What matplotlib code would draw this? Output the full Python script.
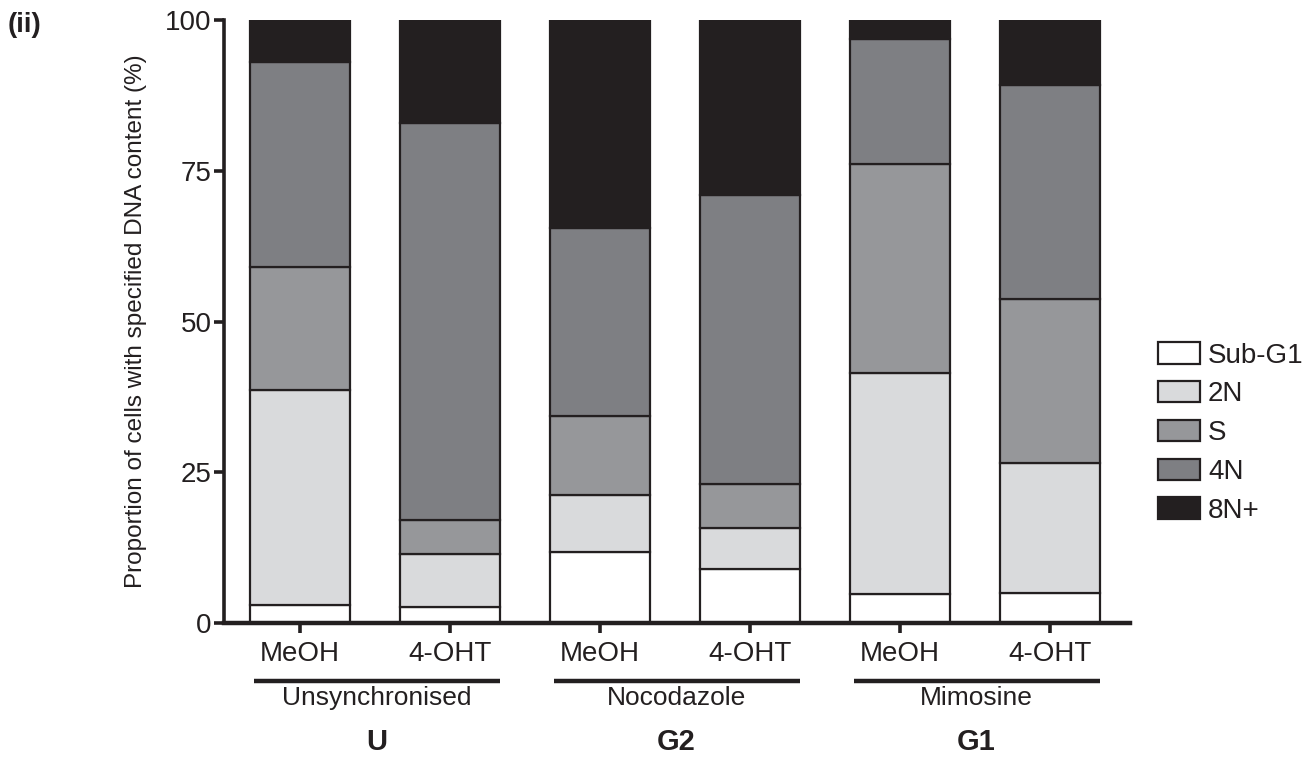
import matplotlib
matplotlib.use("Agg")
import matplotlib.pyplot as plt
import matplotlib.transforms as mtransforms
from matplotlib.patches import Patch
import numpy as np

plt.rcParams['font.family'] = ['Liberation Sans', 'DejaVu Sans']

# Data: percentage of cells in each DNA-content class
treatments = ["MeOH", "4-OHT", "MeOH", "4-OHT", "MeOH", "4-OHT"]
groups = ["Unsynchronised", "Nocodazole", "Mimosine"]
phases = ["U", "G2", "G1"]
categories = ["Sub-G1", "2N", "S", "4N", "8N+"]

sub_g1 = [3.0, 2.6, 11.8, 9.0, 4.8, 4.9]
two_n = [35.7, 8.8, 9.5, 6.8, 36.7, 21.7]
s_phase = [20.3, 5.7, 13.0, 7.2, 34.7, 27.2]
four_n = [34.1, 65.8, 31.2, 47.9, 20.6, 35.4]
eight_n = [6.9, 17.1, 34.5, 29.1, 3.2, 10.8]

colors = ["#ffffff", "#d9dadc", "#96979a", "#7e7f83", "#231f20"]
edge = "#231f20"

fig = plt.figure(figsize=(13.09, 7.58), dpi=100)
W, H = 1309, 758
ax = fig.add_axes([224 / W, 1 - 623 / H, (1130 - 224) / W, (623 - 20) / H])

x = np.arange(len(treatments))
series = [sub_g1, two_n, s_phase, four_n, eight_n]
bottom = np.zeros(len(x))
for vals, col in zip(series, colors):
    ax.bar(x, vals, width=0.667, bottom=bottom, color=col, edgecolor=edge,
           linewidth=1.6, zorder=2)
    bottom += np.array(vals)

ax.set_xlim(-0.507, 5.533)
ax.set_ylim(0, 100)
ax.set_yticks([0, 25, 50, 75, 100])
ax.set_xticks(x)
ax.set_xticklabels(treatments)
for side in ("top", "right"):
    ax.spines[side].set_visible(False)
ax.spines["left"].set_linewidth(2.6)
ax.spines["bottom"].set_linewidth(3.2)
ax.spines["left"].set_color(edge)
ax.spines["bottom"].set_color(edge)
ax.tick_params(axis="both", direction="out", length=7, width=2.6,
               color=edge, labelsize=20, labelcolor=edge, pad=2)
ax.tick_params(axis="x", pad=6)
ax.set_ylabel("Proportion of cells with specified DNA content (%)",
              fontsize=17.5, color=edge)
ax.yaxis.set_label_coords(-0.085, 0.5)

# Group annotations beneath the x axis
trans = mtransforms.blended_transform_factory(ax.transData, fig.transFigure)
for i, (g, p) in enumerate(zip(groups, phases)):
    x0 = 2 * i
    ax.plot([x0 - 0.31, x0 + 1.33], [1 - 681 / H] * 2, transform=trans,
            color=edge, lw=3.2, clip_on=False, solid_capstyle="butt")
    fig.text(x0 + 0.51, 1 - 698 / H, g, transform=trans, ha="center",
             va="center", fontsize=19, color=edge)
    fig.text(x0 + 0.51, 1 - 742 / H, p, transform=trans, ha="center",
             va="center", fontsize=21, fontweight="bold", color=edge)

fig.text(8 / W, 1 - 25 / H, "(ii)", fontsize=20, fontweight="bold",
         color=edge, ha="left", va="center")

handles = [Patch(facecolor=c, edgecolor=edge, linewidth=1.6) for c in colors]
fig.legend(handles, categories, loc="center left",
           bbox_to_anchor=(1158 / W, 1 - 433 / H), frameon=False,
           fontsize=20, handlelength=1.5, handleheight=0.8,
           labelspacing=0.45, handletextpad=0.3, borderpad=0,
           borderaxespad=0, labelcolor=edge)

fig.savefig("out.png", dpi=100)
